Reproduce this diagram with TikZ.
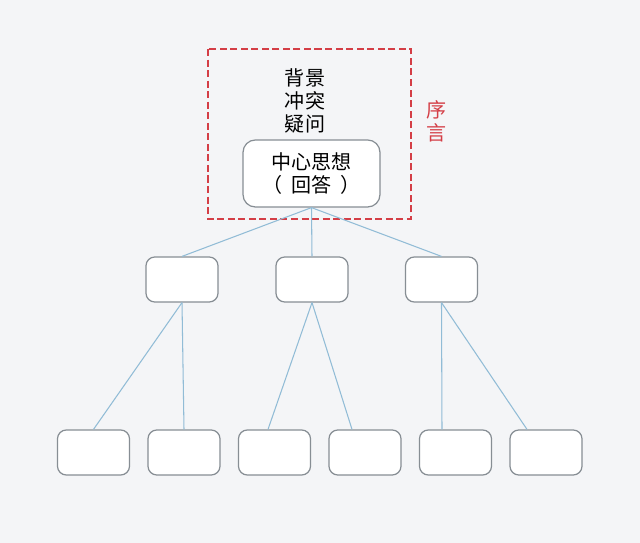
\documentclass[tikz,border=0pt]{standalone}
\usepackage{fontspec}
\setmainfont{Noto Sans CJK SC}
\usetikzlibrary{positioning,calc}
\definecolor{PageGray}{RGB}{244,245,247}
\definecolor{BoxEdge}{RGB}{135,142,148}
\definecolor{LinkBlue}{RGB}{145,188,214}
\definecolor{PrefRed}{RGB}{212,62,70}
\tikzset{
  card/.style={draw=BoxEdge,fill=white,rounded corners=5pt,line width=0.7pt,
    minimum width=1.44cm,minimum height=0.9cm,inner sep=0pt},
  link/.style={draw=LinkBlue,line width=0.6pt},
  frame/.style={draw=PrefRed,dash pattern=on 4pt off 2pt,line width=0.7pt},
  lbl/.style={font=\fontsize{11.4}{13}\selectfont,align=center,inner sep=0pt},
}

\begin{document}
\begin{tikzpicture}[x=0.02cm,y=-0.02cm]
\fill[PageGray] (0,0) rectangle (640,543);
\useasboundingbox (0,0) rectangle (640,543);
% preface frame
\draw[frame] (208,49) rectangle (411,219);
\node[lbl] (lead) at (305,101) {背景\\冲突\\疑问};
\node[lbl,text=PrefRed] (pref) at (437,121) {序\\言};
% main idea
\node[card,lbl,rounded corners=7pt,minimum width=2.74cm,minimum height=1.34cm] (top) at (311.5,173.5) {中心思想\\（\hspace{0.45em}回答\hspace{0.45em}）};
% second level
\node[card] (m1) at (182,279.5) {};
\node[card] (m2) at (312,279.5) {};
\node[card] (m3) at (441.5,279.5) {};
% third level
\node[card] (b1) at (93.5,452.5) {};
\node[card] (b2) at (184,452.5) {};
\node[card] (b3) at (274.5,452.5) {};
\node[card] (b4) at (365,452.5) {};
\node[card] (b5) at (455.5,452.5) {};
\node[card] (b6) at (546,452.5) {};
\draw[link] (top.south) -- (m1.north);
\draw[link] (top.south) -- (m2.north);
\draw[link] (top.south) -- (m3.north);
\draw[link] (m1.south) -- (b1.north);
\draw[link] (m1.south) -- (b2.north);
\draw[link] (m2.south) -- ([xshift=-0.13cm]b3.north);
\draw[link] (m2.south) -- ([xshift=-0.26cm]b4.north);
\draw[link] (m3.south) -- ([xshift=-0.27cm]b5.north);
\draw[link] (m3.south) -- ([xshift=-0.38cm]b6.north);
\end{tikzpicture}
\end{document}
